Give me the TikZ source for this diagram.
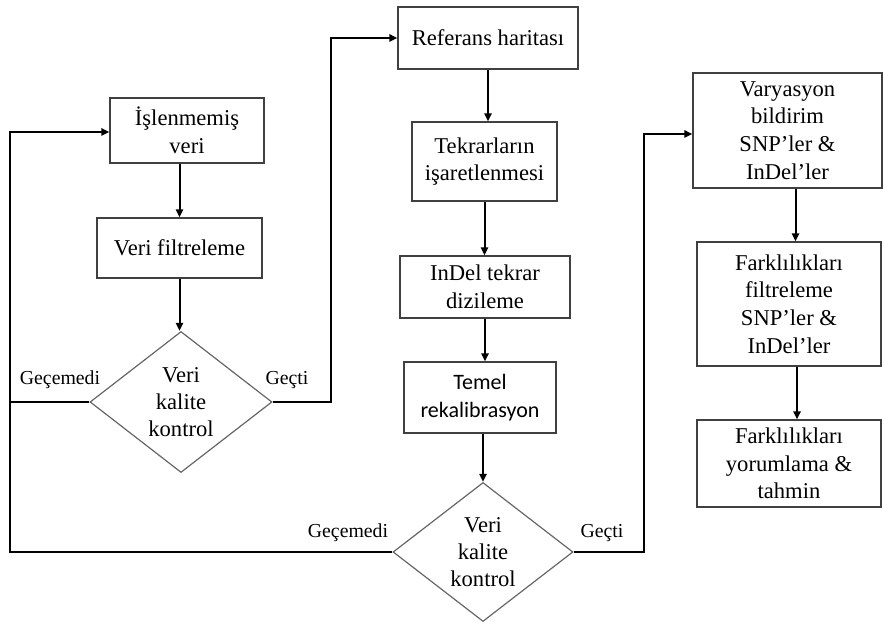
\documentclass[tikz,border=0pt]{standalone}
\usepackage{fontspec}
\setmainfont{Liberation Serif}
\newfontfamily\calibrifont{Carlito}
\usetikzlibrary{arrows.meta,shapes.geometric}

\begin{document}
\begin{tikzpicture}[x=0.5pt,y=-0.5pt,
  >={Triangle[length=4pt,width=3.6pt]},
  box/.style={draw=black!75,line width=0.6pt,align=center,inner sep=1pt,
    font=\fontsize{11.3}{13.8}\selectfont},
  check/.style={diamond,draw=black!60,line width=0.6pt,align=center,
    inner sep=0pt,shape aspect=1.3,font=\fontsize{11.3}{13.5}\selectfont},
  flow/.style={line width=1pt},
  tag/.style={font=\fontsize{9.9}{12}\selectfont}]

\useasboundingbox (0,0) rectangle (883,624);

% ---------- left column ----------
\node[box,minimum width=77pt,minimum height=32.5pt] (raw) at (187,130.5) {İşlenmemiş\\veri};
\node[box,minimum width=82.5pt,minimum height=30pt] (filt) at (179.5,248) {Veri filtreleme};
\node[check,minimum width=91pt,minimum height=70.5pt] (qc1) at (181,402) {Veri\\kalite\\kontrol};

% ---------- middle column ----------
\node[box,minimum width=90pt,minimum height=31pt] (ref) at (488,38) {Referans haritası};
\node[box,minimum width=72.5pt,minimum height=39.5pt] (mark) at (484.5,161.5) {Tekrarların\\işaretlenmesi};
\node[box,minimum width=85pt,minimum height=31pt] (realign) at (485,287) {InDel tekrar\\dizileme};
\node[box,font=\calibrifont\fontsize{11}{13.8}\selectfont,
      minimum width=76pt,minimum height=35.5pt] (recal) at (480,397.5) {Temel\\rekalibrasyon};
\node[check,minimum width=90pt,minimum height=69.5pt] (qc2) at (483,552) {Veri\\kalite\\kontrol};

% ---------- right column ----------
\node[box,minimum width=94.5pt,minimum height=57.5pt] (call) at (787.5,130.5) {Varyasyon\\bildirim\\SNP’ler \&\\InDel’ler};
\node[box,minimum width=92pt,minimum height=62pt] (vfilt) at (789,304) {Farklılıkları\\filtreleme\\SNP’ler \&\\InDel’ler};
\node[box,minimum width=92pt,minimum height=43.5pt] (interp) at (789,463.5) {Farklılıkları\\yorumlama \&\\tahmin};

% ---------- branch labels ----------
\node[tag] (fail1) at (60,380) {Geçemedi};
\node[tag] (ok1) at (287,380) {Geçti};
\node[tag] (fail2) at (348,533) {Geçemedi};
\node[tag] (ok2) at (602,533) {Geçti};

% ---------- straight arrows ----------
\draw[flow,->] (raw.south -| filt) -- (filt.north);
\draw[flow,->] (filt.south) -- (filt.south |- qc1.north);
\draw[flow,->] (ref.south) -- (ref.south |- mark.north);
\draw[flow,->] (mark.south) -- (mark.south |- realign.north);
\draw[flow,->] (realign.south) -- (realign.south |- recal.north);
\draw[flow,->] (recal.south -| qc2) -- (qc2.north);
\draw[flow,->] ([xshift=4pt]call.south) -- ([xshift=4pt]call.south |- vfilt.north);
\draw[flow,->] ([xshift=4pt]vfilt.south) -- ([xshift=4pt]vfilt.south |- interp.north);

% ---------- loops ----------
\coordinate (back) at (10,132);
\coordinate (pass1) at (331,38);
\coordinate (pass2) at (644,134);
\draw[flow,->] (qc2.west) -| (back) -- (raw.west |- back);
\draw[flow] (qc1.west) -- (qc1.west -| back);
\draw[flow,->] (qc1.east) -| (pass1) -- (ref.west |- pass1);
\draw[flow,->] (qc2.east) -| (pass2) -- (call.west |- pass2);

\end{tikzpicture}
\end{document}
